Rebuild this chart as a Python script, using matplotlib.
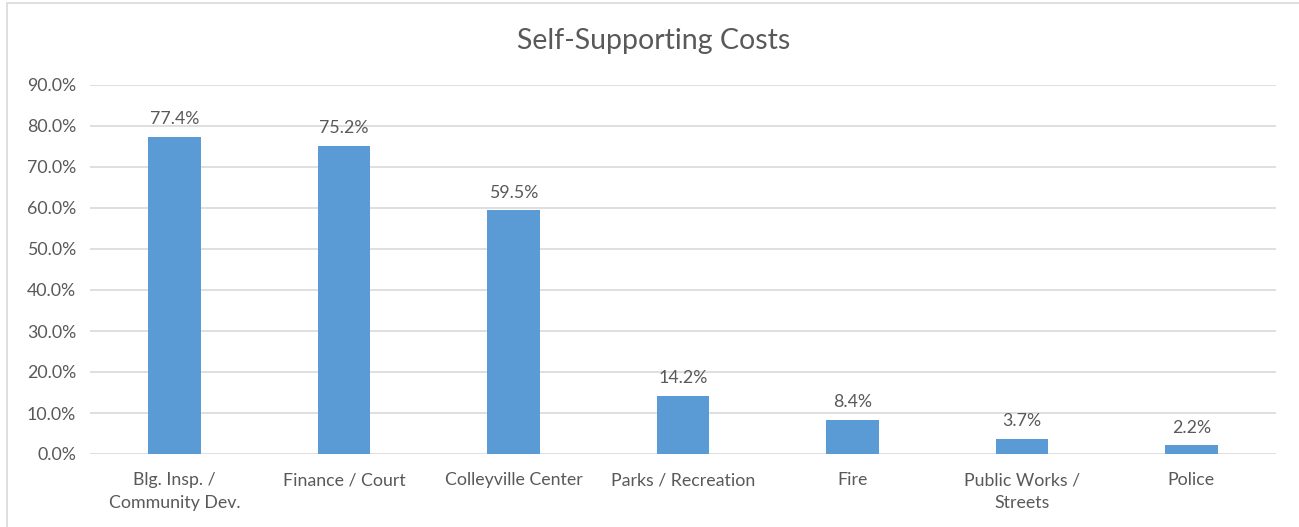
import matplotlib.pyplot as plt
from matplotlib.patches import Rectangle

# departments and the share of their cost that is self-supporting
departments = ['Blg. Insp. /\nCommunity Dev.', 'Finance / Court', 'Colleyville Center',
               'Parks / Recreation', 'Fire', 'Public Works /\nStreets', 'Police']
pct = [77.4, 75.2, 59.5, 14.2, 8.4, 3.7, 2.2]
yticks = [0, 10, 20, 30, 40, 50, 60, 70, 80, 90]

plt.rcParams['font.family'] = ['Lato', 'DejaVu Sans']
text_col = '#595959'

fig = plt.figure(figsize=(12.99, 5.27), dpi=100)
ax = fig.add_axes([90/1299, 1 - 454/527, 1186/1299, 369/527])

x = range(len(pct))
ax.bar(x, pct, width=0.31, color='#5B9BD5', zorder=3)
for i, v in zip(x, pct):
    ax.text(i, v + 2.3, '%.1f%%' % v, ha='center', va='bottom', fontsize=12.8, color=text_col)

ax.set_xlim(-0.5, len(pct) - 0.5)
ax.set_ylim(0, 90)
ax.set_yticks(yticks)
ax.set_yticklabels(['%.1f%%' % t for t in yticks], fontsize=12.8, color=text_col)
ax.set_xticks(list(x))
ax.set_xticklabels(departments, fontsize=12.8, color=text_col, linespacing=1.55)
ax.tick_params(length=0, pad=10)
ax.tick_params(axis='x', pad=13)
ax.grid(axis='y', color='#D9D9D9', linewidth=1.2, zorder=0)
for s in ax.spines.values():
    s.set_visible(False)

fig.text(654/1299, 1 - 41/527, 'Self-Supporting Costs', ha='center', va='center',
         fontsize=20.5, color=text_col)

# light frame around the chart
fig.patches.append(Rectangle((7/1299, -0.01), 1.0, 1 - 3/527 + 0.01, transform=fig.transFigure,
                             fill=False, edgecolor='#D9D9D9', linewidth=1.2))

plt.savefig('out.png', dpi=100)
